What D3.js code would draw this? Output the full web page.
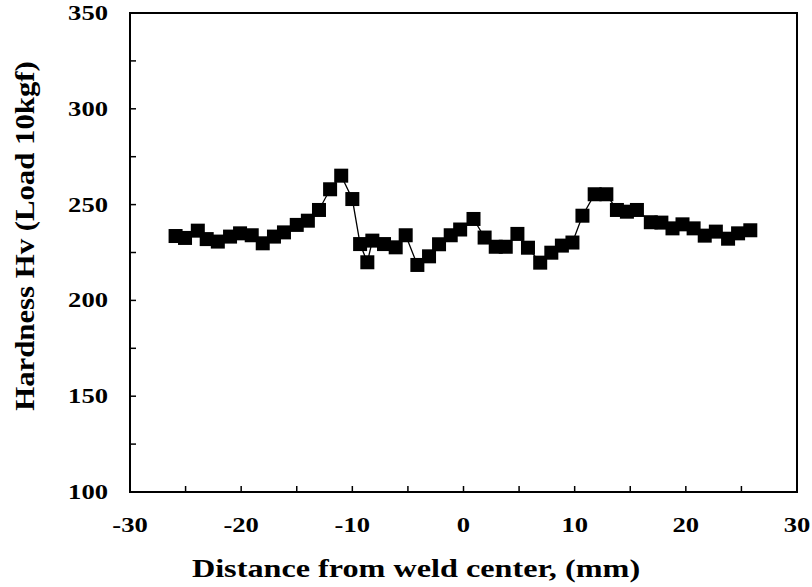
<!DOCTYPE html>
<html>
<head>
<meta charset="utf-8">
<script src="https://cdn.jsdelivr.net/npm/d3@7"></script>
<style>
  html, body { margin: 0; padding: 0; background: #fff; }
  text { font-family: "Liberation Serif", "Times New Roman", serif; font-weight: bold; fill: #000; }
</style>
</head>
<body>
<script>
// Data
const distance = [-25.9, -25.05, -23.9, -23.1, -22.1, -21.0, -20.1, -19.05, -18.06, -17.05, -16.15,
  -15.0, -14.0, -13.0, -12.0, -11.0, -10.0, -9.3, -8.65, -8.2, -7.15, -6.1, -5.2, -4.15, -3.1,
  -2.2, -1.15, -0.3, 0.9, 1.9, 2.9, 3.8, 4.85, 5.8, 6.9, 7.9, 8.85, 9.8, 10.7, 11.8, 12.85,
  13.8, 14.7, 15.6, 16.85, 17.8, 18.8, 19.7, 20.7, 21.7, 22.7, 23.8, 24.7, 25.8];
const hardness = [233.6, 232.6, 236.4, 232, 230.7, 233.3, 235, 234, 229.8, 233.3, 235.5,
  239.4, 241.6, 247.2, 258, 265.1, 252.9, 229.4, 219.9, 231.2, 229.4, 227.7, 234, 218.5, 223,
  229.3, 234, 237, 242.5, 232.8, 228, 228, 234.7, 227.5, 219.7, 224.9, 228.6, 230.2, 244.2, 255.4, 255.4,
  247.2, 246.3, 247.2, 240.8, 240.6, 237.6, 239.7, 237.6, 233.8, 235.9, 232.2, 235, 236.6];
const xTickLabels = [-30, -20, -10, 0, 10, 20, 30];
const yTickLabels = [100, 150, 200, 250, 300, 350];
const xTitle = "Distance from weld center, (mm)";
const yTitle = "Hardness Hv (Load 10kgf)";

const W = 812, H = 587;
const L = 130, R = 797, T = 13, B = 492;
const SX = 1.33; // horizontal stretch of tick text in reference

const svg = d3.select("body").append("svg").attr("width", W).attr("height", H);

const x = d3.scaleLinear().domain([-30, 30]).range([L, R]);
const y = d3.scaleLinear().domain([100, 350]).range([B, T]);

// ticks (inward)
const xt = d3.range(-25, 26, 5);
svg.append("g").selectAll("line").data(xt).join("line")
  .attr("x1", d => x(d)).attr("x2", d => x(d))
  .attr("y1", B).attr("y2", B - 6)
  .attr("stroke", "#000").attr("stroke-width", 1.5);
const yt = d3.range(125, 350, 25);
svg.append("g").selectAll("line").data(yt).join("line")
  .attr("x1", L).attr("x2", L + 6)
  .attr("y1", d => y(d)).attr("y2", d => y(d))
  .attr("stroke", "#000").attr("stroke-width", 1.5);

// frame
svg.append("rect").attr("x", L).attr("y", T).attr("width", R - L).attr("height", B - T)
  .attr("fill", "none").attr("stroke", "#000").attr("stroke-width", 2);

// tick labels
svg.append("g").selectAll("text").data(xTickLabels).join("text")
  .attr("transform", d => `translate(${x(d)},${B + 40}) scale(${SX},1)`)
  .attr("text-anchor", "middle").attr("font-size", 20)
  .text(d => d);
svg.append("g").selectAll("text").data(yTickLabels).join("text")
  .attr("transform", d => `translate(${L - 22},${y(d) + 7}) scale(${SX},1)`)
  .attr("text-anchor", "end").attr("font-size", 20)
  .text(d => d);

// axis titles
svg.append("text")
  .attr("transform", `translate(416,577) scale(1.24,1)`)
  .attr("text-anchor", "middle").attr("font-size", 26)
  .text(xTitle);
svg.append("text")
  .attr("transform", `translate(34,236) rotate(-90) scale(1.14,1)`)
  .attr("text-anchor", "middle").attr("font-size", 27)
  .text(yTitle);

// line and markers
const pts = distance.map((d, i) => [d, hardness[i]]);
svg.append("path").datum(pts)
  .attr("fill", "none").attr("stroke", "#000").attr("stroke-width", 1.3)
  .attr("d", d3.line().x(d => x(d[0])).y(d => y(d[1])));
const S = 14;
svg.append("g").selectAll("rect").data(pts).join("rect")
  .attr("x", d => x(d[0]) - S / 2).attr("y", d => y(d[1]) - S / 2)
  .attr("width", S).attr("height", S).attr("fill", "#000");
</script>
</body>
</html>
